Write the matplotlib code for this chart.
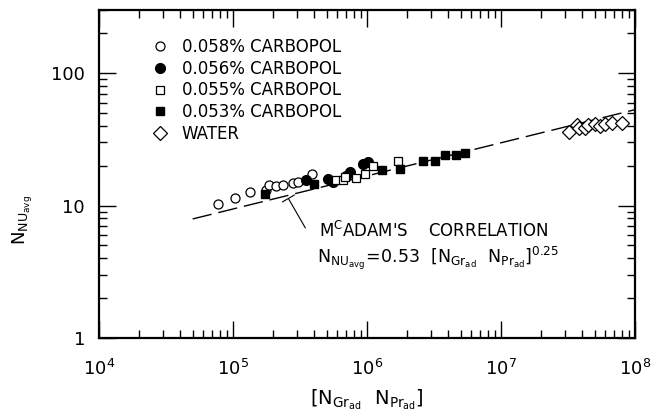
import matplotlib
matplotlib.use('Agg')
import matplotlib.pyplot as plt
import numpy as np

plt.rcParams['font.family'] = 'DejaVu Sans'
plt.rcParams['mathtext.fontset'] = 'dejavusans'

# Gr*Pr (x) and average Nusselt number (y) for each fluid
ra_058 = [7.7e4, 1.03e5, 1.34e5, 1.76e5, 1.86e5, 2.1e5, 2.38e5, 2.79e5, 3.04e5, 3.87e5]
nu_058 = [10.3, 11.4, 12.7, 13.1, 14.4, 14.1, 14.3, 14.7, 15.0, 17.3]

ra_056 = [3.5e5, 5.1e5, 5.6e5, 7.0e5, 7.5e5, 9.4e5, 1.02e6]
nu_056 = [15.6, 15.9, 15.0, 16.8, 17.8, 20.6, 21.2]

ra_055 = [5.9e5, 6.65e5, 6.9e5, 8.3e5, 9.7e5, 1.11e6, 1.71e6]
nu_055 = [15.6, 15.6, 16.3, 16.1, 17.3, 20.0, 21.8]

ra_053 = [1.74e5, 4.0e5, 1.29e6, 1.76e6, 2.6e6, 3.2e6, 3.8e6, 4.6e6, 5.4e6]
nu_053 = [12.2, 14.5, 18.6, 18.9, 21.8, 21.6, 24.0, 24.0, 25.1]

ra_water = [3.2e7, 3.67e7, 3.84e7, 4.23e7, 4.48e7, 5.0e7, 5.5e7, 5.97e7, 6.7e7, 7.96e7]
nu_water = [36.0, 40.6, 38.8, 38.8, 40.6, 41.6, 40.0, 41.6, 42.3, 42.3]

# McAdams correlation Nu = 0.53 (Gr Pr)^0.25
c_coef = 0.53
c_exp = 0.25
ra_line = [5e4, 1e8]

fig = plt.figure(figsize=(6.57, 4.19), dpi=100)
ax = fig.add_axes([99/657, 1-338/419, 536/657, 328/419])

rl = np.logspace(np.log10(ra_line[0]), np.log10(ra_line[1]), 200)
ax.plot(rl, c_coef*rl**c_exp, color='black', lw=1.0, dashes=(14, 5))

ax.plot(ra_058, nu_058, 'o', mfc='white', mec='black', ms=6.5, mew=0.9, label='0.058% CARBOPOL')
ax.plot(ra_056, nu_056, 'o', mfc='black', mec='black', ms=7, label='0.056% CARBOPOL')
ax.plot(ra_055, nu_055, 's', mfc='white', mec='black', ms=6, mew=0.9, label='0.055% CARBOPOL')
ax.plot(ra_053, nu_053, 's', mfc='black', mec='black', ms=6, label='0.053% CARBOPOL')
ax.plot(ra_water, nu_water, 'D', mfc='white', mec='black', ms=7, mew=0.9, label='WATER')

ax.set_xscale('log')
ax.set_yscale('log')
ax.set_xlim(1e4, 1e8)
ax.set_ylim(1, 300)
ax.set_xticks([1e4, 1e5, 1e6, 1e7, 1e8])
ax.set_xticklabels([r'$10^4$', r'$10^5$', r'$10^6$', r'$10^7$', r'$10^8$'])
ax.set_yticks([1, 10, 100])
ax.set_yticklabels(['1', '10', '100'])

ax.tick_params(which='both', direction='in', top=True, right=True, labelsize=13, width=1.0)
ax.tick_params(which='major', length=12, pad=10)
ax.tick_params(axis='x', which='major', pad=15)
ax.tick_params(which='minor', length=6)
for s in ax.spines.values():
    s.set_linewidth(1.6)

ax.set_ylabel(r'$\mathrm{N_{NU_{avg}}}$', fontsize=13)
ax.yaxis.set_label_coords(-0.119, 0.36)
ax.set_xlabel(r'$\mathrm{\left[N_{Gr_{ad}}\ \ N_{Pr_{ad}}\right]}$', fontsize=14, labelpad=6)

leg = ax.legend(loc='upper left', bbox_to_anchor=(0.07, 0.96), frameon=False,
                handlelength=1, handletextpad=0.8, labelspacing=0.22, fontsize=12)

# leader from the correlation label to the dashed line
ax.annotate('', xy=(2.53e5, 11.8), xytext=(3.55e5, 6.5),
            arrowprops=dict(arrowstyle='-[, widthB=0.5, lengthB=0', color='black', lw=0.8))
ax.text(4.4e5, 5.8, r"M$^{\mathrm{C}}$ADAM'S    CORRELATION", fontsize=12, va='baseline')
ax.text(4.2e5, 3.66, r'$\mathrm{N_{NU_{avg}}\!=\!0.53\ \ \left[N_{Gr_{ad}}\ \ N_{Pr_{ad}}\right]^{0.25}}$',
        fontsize=12.5, va='baseline')

fig.savefig('out.png', dpi=100)
